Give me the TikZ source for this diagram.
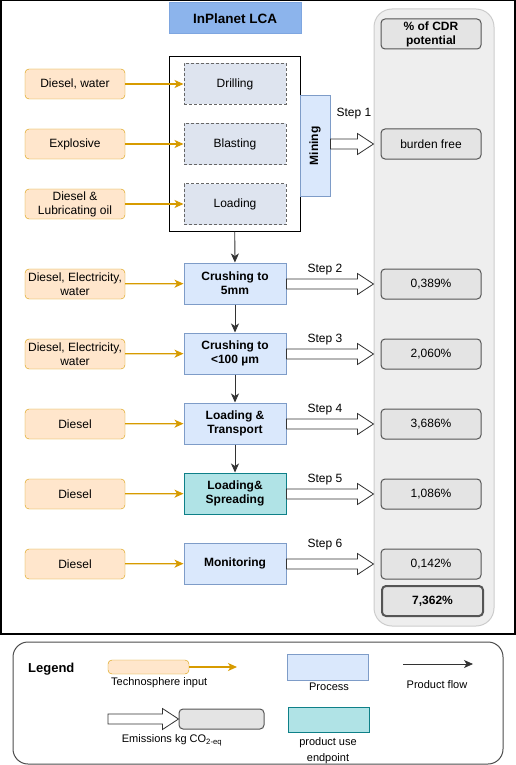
\documentclass[tikz,border=0pt]{standalone}
\usepackage{fontspec}
\setmainfont{Liberation Sans}
\usetikzlibrary{arrows.meta,positioning,calc}

\definecolor{inputfill}{HTML}{FFE6CC}
\definecolor{inputline}{HTML}{D79B00}
\definecolor{procfill}{HTML}{DAE8FC}
\definecolor{procline}{HTML}{7E9CC8}
\definecolor{subfill}{HTML}{DEE4EF}
\definecolor{endfill}{HTML}{B0E3E6}
\definecolor{endline}{HTML}{0E8088}
\definecolor{cdrfill}{HTML}{E4E4E4}
\definecolor{cdrline}{HTML}{555555}
\definecolor{colfill}{HTML}{EEEEEE}
\definecolor{colline}{HTML}{CCCCCC}
\definecolor{titlefill}{HTML}{8CB4EC}
\definecolor{titleline}{HTML}{7EA6E0}

\newcommand\bodyfont{\fontsize{12}{14}\selectfont}
\newcommand\smallfont{\fontsize{11}{16}\selectfont}

\tikzset{
  inputbox/.style={draw=inputline,fill=inputfill,rounded corners=4pt,minimum width=100pt,minimum height=30pt,inner sep=0pt,align=center,font=\bodyfont},
  procbox/.style={draw=procline,fill=procfill,line width=1pt,minimum width=102pt,minimum height=41pt,inner sep=0pt,align=center,font=\bodyfont\bfseries},
  endbox/.style={procbox,draw=endline,fill=endfill},
  subbox/.style={draw=black!60,fill=subfill,dashed,dash pattern=on 3pt off 2pt,line width=1pt,minimum width=102pt,minimum height=41pt,font=\bodyfont},
  cdrbox/.style={draw=cdrline,fill=cdrfill,rounded corners=4pt,line width=1pt,minimum width=100pt,minimum height=30pt,inner sep=0pt,align=center,font=\bodyfont},
  steplabel/.style={font=\bodyfont,inner sep=0pt},
  techflow/.style={draw=inputline,line width=1.2pt,-{Stealth[length=9pt,width=8pt,inset=2.5pt]}},
  prodflow/.style={draw=black!80,line width=0.8pt,-{Stealth[length=9pt,width=8pt,inset=2.5pt]}},
  emisline/.style={draw=black!80,fill=white,line width=0.8pt},
  legendtext/.style={font=\smallfont,inner sep=0pt,align=center}
}

% block arrow from a point to a tip, at the height of the tip
\newcommand\emisarrow[2]{%
  \draw[emisline] let \p1=(#1), \p2=(#2) in
    (\x1,\y2+5pt) -- (\x2-16pt,\y2+5pt) -- (\x2-16pt,\y2+10.5pt) -- (\x2,\y2)
    -- (\x2-16pt,\y2-10.5pt) -- (\x2-16pt,\y2-5pt) -- (\x1,\y2-5pt) -- cycle;}

\begin{document}
\begin{tikzpicture}[x=1pt,y=-1pt]
\useasboundingbox (0,0) rectangle (516,765);

% frame and CDR column
\draw[line width=1.5pt] (0.75,0.75) rectangle (515,634);
\draw[draw=colline,fill=colfill,rounded corners=18pt,line width=1pt] (374,9) rectangle (494,626);
\node[draw=titleline,fill=titlefill,line width=1pt,minimum width=132pt,minimum height=31pt,font=\fontsize{13.5}{15}\selectfont\bfseries] (title) at (235,18.5) {InPlanet LCA};
\node[cdrbox,font=\bodyfont\bfseries] (hdr) at (431,34) {\% of CDR\\potential};

% mining block
\node[draw,line width=1pt,fill=white,minimum width=131pt,minimum height=174pt] (minebox) at (234.5,144) {};
\node[subbox] (drill) at (235,84) {Drilling};
\node[subbox] (blast) at (235,144) {Blasting};
\node[subbox] (load) at (235,204) {Loading};
\node[draw=procline,fill=procfill,line width=1pt,minimum width=30pt,minimum height=100pt,inner sep=0pt] (mining) at (315,146) {};
\node[rotate=90,font=\bodyfont\bfseries] at (mining.center) {Mining};

\node[inputbox] (in1) at (75,84) {Diesel, water};
\node[inputbox] (in2) at (75,144) {Explosive};
\node[inputbox] (in3) at (75,204) {Diesel \&\\Lubricating oil};
\draw[techflow] (in1) -- (drill);
\draw[techflow] (in2) -- (blast);
\draw[techflow] (in3) -- (load);

\node[cdrbox] (r1) at (431,144) {burden free};
\node[steplabel] at (354,114) {Step 1};
\emisarrow{mining.east}{$(r1.west)+(-7,0)$}

% process chain
\node[procbox] (crush5) at (235,283.5) {Crushing to\\5mm};
\node[procbox] (crush100) at (235,353.5) {Crushing to\\\textless100 µm};
\node[procbox] (transport) at (235,423.5) {Loading \&\\Transport};
\node[endbox] (spread) at (235,493.5) {Loading\&\\Spreading};
\node[procbox] (monitor) at (235,563.5) {Monitoring};

\node[inputbox] (in4) at (75,284) {Diesel, Electricity,\\water};
\node[inputbox] (in5) at (75,354) {Diesel, Electricity,\\water};
\node[inputbox] (in6) at (75,424) {Diesel};
\node[inputbox] (in7) at (75,494) {Diesel};
\node[inputbox] (in8) at (75,564) {Diesel};
\draw[techflow] (in4) -- (crush5);
\draw[techflow] (in5) -- (crush100);
\draw[techflow] (in6) -- (transport);
\draw[techflow] (in7) -- (spread);
\draw[techflow] (in8) -- (monitor);

\draw[prodflow] (minebox) -- (crush5);
\draw[prodflow] (crush5) -- (crush100);
\draw[prodflow] (crush100) -- (transport);
\draw[prodflow] (transport) -- (spread);

\node[cdrbox] (r2) at (431,284) {0,389\%};
\node[cdrbox] (r3) at (431,354) {2,060\%};
\node[cdrbox] (r4) at (431,424) {3,686\%};
\node[cdrbox] (r5) at (431,494) {1,086\%};
\node[cdrbox] (r6) at (431,564) {0,142\%};
\node[cdrbox,line width=2pt,minimum width=101pt,font=\bodyfont\bfseries] (total) at (432.5,601) {7,362\%};

\node[steplabel] at (325,270) {Step 2};
\node[steplabel] at (325,340) {Step 3};
\node[steplabel] at (325,410) {Step 4};
\node[steplabel] at (325,480) {Step 5};
\node[steplabel] at (325,545) {Step 6};
\emisarrow{crush5.east}{$(r2.west)+(-7,0)$}
\emisarrow{crush100.east}{$(r3.west)+(-7,0)$}
\emisarrow{transport.east}{$(r4.west)+(-7,0)$}
\emisarrow{spread.east}{$(r5.west)+(-7,0)$}
\emisarrow{monitor.east}{$(r6.west)+(-7,0)$}

% legend
\draw[draw=black!70,line width=1pt,rounded corners=15pt] (13,642) rectangle (503,764);
\node[anchor=west,font=\fontsize{13}{15}\selectfont\bfseries,inner sep=0pt] at (28,669) {Legend};
\node[inputbox,minimum width=81pt,minimum height=14pt] (lgin) at (148.5,667) {};
\coordinate (lgintip) at (237,667);
\draw[techflow] (lgin) -- (lgintip);
\node[legendtext,anchor=west] at (111,683) {Technosphere input};
\node[draw=procline,fill=procfill,line width=1pt,minimum width=81pt,minimum height=26pt] (lgproc) at (327.5,667) {};
\node[legendtext] at (329,687) {Process};
\coordinate (lgflowa) at (403,664);
\coordinate (lgflowb) at (473,664);
\draw[prodflow] (lgflowa) -- (lgflowb);
\node[legendtext] at (437,685) {Product flow};
\node[cdrbox,minimum width=85pt,minimum height=20pt] (lgcdr) at (221.5,719) {};
\coordinate (lgemis) at (108,719);
\emisarrow{lgemis}{lgcdr.west}
\node[legendtext] at (172,740) {Emissions kg CO\textsubscript{2-eq}};
\node[draw=endline,fill=endfill,line width=1pt,minimum width=81pt,minimum height=25pt] (lgend) at (328.5,719.5) {};
\node[legendtext] at (328,751) {product use\\endpoint};
\end{tikzpicture}
\end{document}
